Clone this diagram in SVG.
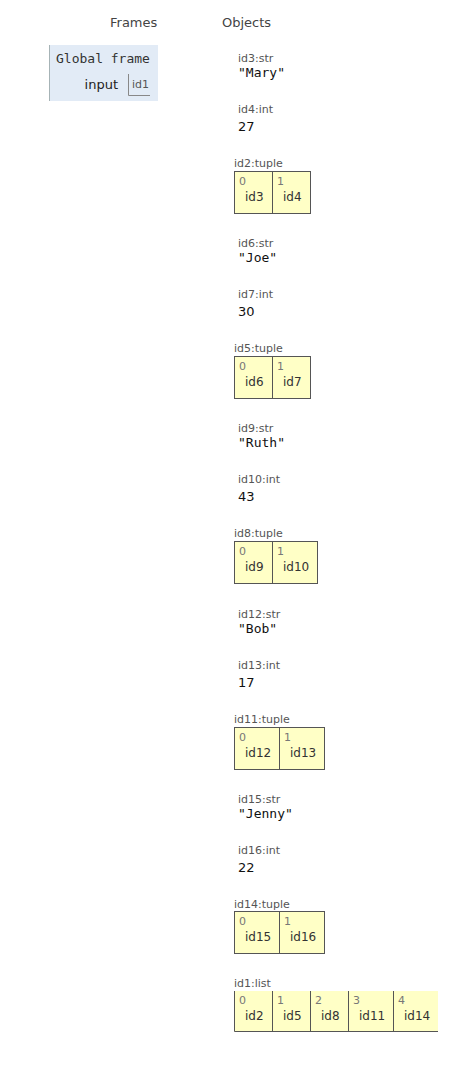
<svg xmlns="http://www.w3.org/2000/svg" width="454" height="1065" viewBox="0 0 454 1065">
<style>
.hdr{font-family:"DejaVu Sans",Verdana,sans-serif;font-size:13px;fill:#444}
.lbl{font-family:"DejaVu Sans",Verdana,sans-serif;font-size:11px;fill:#555}
.str{font-family:"DejaVu Sans Mono",monospace;font-size:13px;fill:#111}
.num{font-family:"DejaVu Sans",Verdana,sans-serif;font-size:13px;fill:#111}
.idx{font-family:"DejaVu Sans",Verdana,sans-serif;font-size:11px;fill:#777}
.val{font-family:"DejaVu Sans",Verdana,sans-serif;font-size:12px;fill:#333}
.cell{fill:#ffffc6;stroke:#555;stroke-width:1}
.ln{stroke:#555;stroke-width:1;fill:none}
.frm{font-family:"DejaVu Sans Mono",monospace;font-size:13px;fill:#333}
.var{font-family:"DejaVu Sans",Verdana,sans-serif;font-size:13px;fill:#222}
</style>
<rect width="454" height="1065" fill="#fff"/>
<text class="hdr" x="110" y="27">Frames</text>
<text class="hdr" x="222" y="27">Objects</text>

<g id="global_frame">
<rect x="49" y="45" width="109" height="56" fill="#e2ebf6"/>
<line x1="49.5" y1="45" x2="49.5" y2="101" stroke="#a6b3b6" stroke-width="1"/>
<text class="frm" x="56" y="63">Global frame</text>
<text class="var" x="118" y="89" text-anchor="end">input</text>
<path d="M128.5 74 V95.5 H150" stroke="#888" stroke-width="1" fill="none"/>
<text class="lbl" x="132" y="88">id1</text>
</g>

<g id="id3"><text class="lbl" x="238" y="62">id3:str</text><text class="str" x="238" y="77">"Mary"</text></g>
<g id="id4"><text class="lbl" x="238" y="113">id4:int</text><text class="num" x="238" y="131">27</text></g>
<g id="id2">
<text class="lbl" x="234" y="167">id2:tuple</text>
<rect class="cell" x="234.5" y="171.5" width="38" height="42"/>
<rect class="cell" x="272.5" y="171.5" width="38" height="42"/>
<text class="idx" x="239" y="185">0</text><text class="val" x="245" y="201">id3</text>
<text class="idx" x="277" y="185">1</text><text class="val" x="283" y="201">id4</text>
</g>

<g id="id6"><text class="lbl" x="238" y="247">id6:str</text><text class="str" x="238" y="262">"Joe"</text></g>
<g id="id7"><text class="lbl" x="238" y="298">id7:int</text><text class="num" x="238" y="316">30</text></g>
<g id="id5">
<text class="lbl" x="234" y="352">id5:tuple</text>
<rect class="cell" x="234.5" y="356.5" width="38" height="42"/>
<rect class="cell" x="272.5" y="356.5" width="38" height="42"/>
<text class="idx" x="239" y="370">0</text><text class="val" x="245" y="386">id6</text>
<text class="idx" x="277" y="370">1</text><text class="val" x="283" y="386">id7</text>
</g>

<g id="id9"><text class="lbl" x="238" y="432">id9:str</text><text class="str" x="238" y="447">"Ruth"</text></g>
<g id="id10"><text class="lbl" x="238" y="483">id10:int</text><text class="num" x="238" y="501">43</text></g>
<g id="id8">
<text class="lbl" x="234" y="537">id8:tuple</text>
<rect class="cell" x="234.5" y="541.5" width="38" height="42"/>
<rect class="cell" x="272.5" y="541.5" width="45" height="42"/>
<text class="idx" x="239" y="555">0</text><text class="val" x="245" y="571">id9</text>
<text class="idx" x="277" y="555">1</text><text class="val" x="283" y="571">id10</text>
</g>

<g id="id12"><text class="lbl" x="238" y="618">id12:str</text><text class="str" x="238" y="633">"Bob"</text></g>
<g id="id13"><text class="lbl" x="238" y="669">id13:int</text><text class="num" x="238" y="687">17</text></g>
<g id="id11">
<text class="lbl" x="234" y="723">id11:tuple</text>
<rect class="cell" x="234.5" y="727.5" width="45" height="42"/>
<rect class="cell" x="279.5" y="727.5" width="45" height="42"/>
<text class="idx" x="239" y="741">0</text><text class="val" x="245" y="757">id12</text>
<text class="idx" x="284" y="741">1</text><text class="val" x="290" y="757">id13</text>
</g>

<g id="id15"><text class="lbl" x="238" y="803">id15:str</text><text class="str" x="238" y="818">"Jenny"</text></g>
<g id="id16"><text class="lbl" x="238" y="854">id16:int</text><text class="num" x="238" y="872">22</text></g>
<g id="id14">
<text class="lbl" x="234" y="908">id14:tuple</text>
<rect class="cell" x="234.5" y="911.5" width="45" height="42"/>
<rect class="cell" x="279.5" y="911.5" width="45" height="42"/>
<text class="idx" x="239" y="925">0</text><text class="val" x="245" y="941">id15</text>
<text class="idx" x="284" y="925">1</text><text class="val" x="290" y="941">id16</text>
</g>

<g id="id1">
<text class="lbl" x="234" y="987">id1:list</text>
<rect x="234" y="991" width="204" height="41" fill="#ffffc6"/>
<path class="ln" d="M234.5 991 V1031.5 H438 M272.5 991 V1031.5 M310.5 991 V1031.5 M348.5 991 V1031.5 M393.5 991 V1031.5"/>
<text class="idx" x="239" y="1004">0</text><text class="val" x="245" y="1020">id2</text>
<text class="idx" x="277" y="1004">1</text><text class="val" x="283" y="1020">id5</text>
<text class="idx" x="315" y="1004">2</text><text class="val" x="321" y="1020">id8</text>
<text class="idx" x="353" y="1004">3</text><text class="val" x="359" y="1020">id11</text>
<text class="idx" x="398" y="1004">4</text><text class="val" x="404" y="1020">id14</text>
</g>

<g id="connectors"></g>
</svg>
